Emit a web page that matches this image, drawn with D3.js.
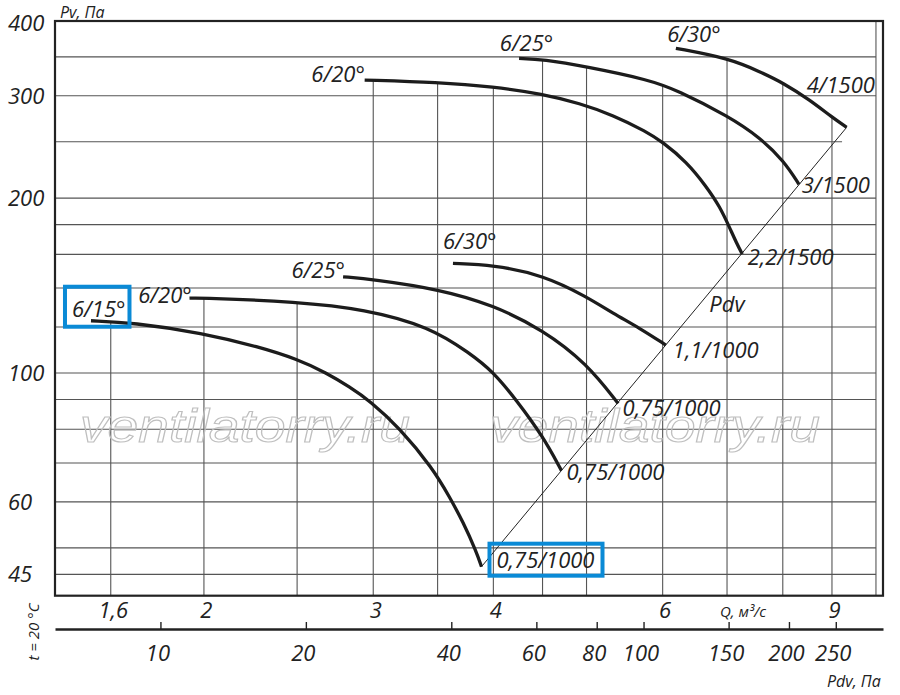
<!DOCTYPE html>
<html><head><meta charset="utf-8">
<script src="https://cdn.jsdelivr.net/npm/d3@7"></script>
<style>
body{margin:0;background:#fff}
svg{display:block}
text{font-family:"Open Sans","Noto Sans",sans-serif;font-style:italic;fill:#222}
</style>
</head><body>
<svg id="c" width="900" height="695"></svg>
<script>
// ---------- data ----------
const qDomain = [1.4, 10.17];          // Q, m3/s (log)
const pDomain = [41.36, 403.5];        // Pv, Pa (log)
const pdvDomain = [6.05, 313.1];       // Pdv, Pa (log)
const qTicks = [1.6, 2, 3, 4, 6, 9];
const qTickLabels = ["1,6", "2", "3", "4", "6", "9"];
const qGrid = [1.6, 2, 2.5, 3, 3.5, 4, 4.5, 5, 6, 7, 8, 9, 10];
const pTicks = [45, 60, 100, 200, 300, 400];
const pGrid = [45, 50, 60, 70, 80, 90, 100, 120, 140, 160, 180, 200, 250, 300, 350];
const pGridEndQ = {250: 9.22};
const pdvTicks = [10, 20, 40, 60, 80, 100, 150, 200, 250];

// fan curves [Q, Pv]
const c15_1000 = [[1.526,123.0],[1.685,122.1],[1.993,117.2],[2.285,110.8],[2.497,105.7],[2.684,100.0],[2.835,94.6],[2.975,89.6],[3.196,80.4],[3.458,68.6],[3.603,61.1],[3.720,55.4],[3.841,49.2],[3.888,46.4]];
const c20_1000 = [[1.932,134.5],[1.994,134.7],[2.499,132.6],[2.939,128.8],[3.434,120.1],[3.781,108.1],[3.998,100.5],[4.227,89.8],[4.506,77.7],[4.709,67.9]];
const c25_1000 = [[2.791,146.4],[2.999,144.9],[3.517,139.3],[3.998,130.9],[4.506,118.6],[5.001,103.9],[5.393,88.6]];
const c30_1000 = [[3.631,154.4],[3.998,153.4],[4.506,147.4],[5.001,135.3],[5.329,126.6],[5.681,119.4],[6.045,111.7]];
const c20_1500 = [[2.939,319.3],[3.503,316.4],[3.998,311.0],[4.506,302.1],[4.920,291.1],[5.329,277.9],[5.773,260.2],[5.993,250.0],[6.354,231.0],[6.665,209.2],[6.881,193.2],[7.036,178.6],[7.162,167.2],[7.260,160.2]];
const c25_1500 = [[4.254,347.9],[4.506,346.6],[5.001,336.6],[5.819,319.3],[6.203,306.9],[7.036,276.3],[7.574,254.2],[8.023,231.6],[8.316,211.2]];
const c30_1500 = [[6.193,362.1],[7.036,347.9],[7.574,330.0],[8.023,315.1],[8.537,295.0],[9.006,275.4],[9.322,264.7]];
const curveSeries = [c15_1000, c20_1000, c25_1000, c30_1000, c20_1500, c25_1500, c30_1500];
const angleLabels = ["6/15°", "6/20°", "6/25°", "6/30°", "6/20°", "6/25°", "6/30°"];
const motorLabels = ["0,75/1000", "0,75/1000", "0,75/1000", "1,1/1000", "2,2/1500", "3/1500", "4/1500"];
// Pdv line endpoints [Q, Pv]
const pdvLine = [[3.888,46.4],[9.322,264.7]];
const pdvLabelPos = [6.71, 127.5];

// ---------- layout ----------
const L = 55, R = 883, T = 21, B = 595.7, PDV_Y = 629;
const angleOff = [[-19,-4],[-51.3,5.3],[-51.6,1.6],[-10,-14],[-53.3,1.7],[-19.3,-7.3],[-8.7,-6.6]];
const motorOff = [[15,1],[5,9.3],[4.4,12.4],[7,13],[5.4,11],[2.7,9],[-40,-34.6]];
const FS = 22;
const BLUE = "#0a8ad6";

const svg = d3.select("#c");
const x = d3.scaleLog().domain(qDomain).range([L, R]);
const y = d3.scaleLog().domain(pDomain).range([B, T]);
const xp = d3.scaleLog().domain(pdvDomain).range([L, R]);

const gGrid = svg.append("g");
const gWm = svg.append("g");
const gCurves = svg.append("g");

// watermark
["ventilatorry.ru","ventilatorry.ru"].forEach((t,i)=>{
  gWm.append("text").text(t)
    .attr("x", i===0 ? 80 : 490).attr("y", 442)
    .attr("textLength", 330).attr("lengthAdjust","spacingAndGlyphs")
    .style("font-family","'Liberation Sans',Arial,sans-serif")
    .style("font-size","46px").style("fill","none")
    .style("stroke","#bfbfbf").style("stroke-width",1.1);
});

// curves
const line = d3.line().x(d=>x(d[0])).y(d=>y(d[1])).curve(d3.curveBasis);
const paths = curveSeries.map(s => gCurves.append("path").attr("d", line(s))
  .attr("fill","none").attr("stroke","#1c1c1c").attr("stroke-width",3.3));

// sample paths for grid tops
const samples = paths.map(p => {
  const n = p.node(), len = n.getTotalLength(), pts = [];
  for (let s = 0; s <= len; s += 0.5) { const q = n.getPointAtLength(s); pts.push([q.x, q.y]); }
  return pts;
});
function topAt(px) {
  let best = null;
  samples.forEach(pts => {
    if (px < pts[0][0] || px > pts[pts.length-1][0]) return;
    let m = pts[0];
    pts.forEach(p => { if (Math.abs(p[0]-px) < Math.abs(m[0]-px)) m = p; });
    if (best === null || m[1] < best) best = m[1];
  });
  return best === null ? T : best;
}

// grid lines
const GRID = "#555";
pGrid.forEach(v => {
  gGrid.append("line").attr("x1", L).attr("x2", x(pGridEndQ[v] || 10))
    .attr("y1", y(v)).attr("y2", y(v)).attr("stroke", GRID).attr("stroke-width", 1.1);
});
qGrid.forEach(v => {
  gGrid.append("line").attr("x1", x(v)).attr("x2", x(v))
    .attr("y1", B).attr("y2", topAt(x(v))).attr("stroke", GRID).attr("stroke-width", 1.1);
});

// Pdv diagonal
svg.append("line")
  .attr("x1", x(pdvLine[0][0])).attr("y1", y(pdvLine[0][1]))
  .attr("x2", x(pdvLine[1][0])).attr("y2", y(pdvLine[1][1]))
  .attr("stroke", "#222").attr("stroke-width", 1);
svg.append("text").text("Pdv").attr("x", x(pdvLabelPos[0])).attr("y", y(pdvLabelPos[1]))
  .style("font-size", FS + "px");

// curve labels
const angleTexts = [], motorTexts = [];
curveSeries.forEach((s, i) => {
  const a = s[0], b = s[s.length-1];
  angleTexts.push(svg.append("text").text(angleLabels[i])
    .attr("x", x(a[0]) + angleOff[i][0]).attr("y", y(a[1]) + angleOff[i][1])
    .style("font-size", FS + "px"));
  motorTexts.push(svg.append("text").text(motorLabels[i])
    .attr("x", x(b[0]) + motorOff[i][0]).attr("y", y(b[1]) + motorOff[i][1])
    .style("font-size", FS + "px"));
});

// highlight boxes
function box(t, pl, pr, pt, pb) {
  const bb = t.node().getBBox();
  svg.append("rect").attr("x", bb.x - pl).attr("y", bb.y - pt)
    .attr("width", bb.width + pl + pr).attr("height", bb.height + pt + pb)
    .attr("fill", "none").attr("stroke", BLUE).attr("stroke-width", 4);
}
box(angleTexts[0], 7, 4, 6, 4);
box(motorTexts[0], 7, 8, 0, 2);

// frame
svg.append("rect").attr("x", L).attr("y", T).attr("width", R - L).attr("height", B - T)
  .attr("fill", "none").attr("stroke", "#222").attr("stroke-width", 2.2);

// axes
function styleAxis(g, size) {
  g.attr("font-family", null).attr("font-size", null);
  g.selectAll("text").style("font-size", size + "px").attr("fill", "#222");
}
const ay = svg.append("g").attr("transform", `translate(${L},0)`)
  .call(d3.axisLeft(y).tickValues(pTicks).tickFormat(d3.format("d")).tickSize(0).tickPadding(0));
ay.select(".domain").remove();
styleAxis(ay, FS);
ay.selectAll("text").attr("text-anchor", "start").attr("x", 8 - L).attr("dy", "0.33em");

const ax = svg.append("g").attr("transform", `translate(0,${B})`)
  .call(d3.axisBottom(x).tickValues(qTicks).tickFormat((d, i) => qTickLabels[i]).tickSize(0).tickPadding(6.5));
ax.select(".domain").remove();
styleAxis(ax, FS);
ax.selectAll("text").attr("x", 2);

const axp = svg.append("g").attr("transform", `translate(0,${PDV_Y})`)
  .call(d3.axisBottom(xp).tickValues(pdvTicks).tickFormat(d3.format("d")).tickSizeInner(-7).tickSizeOuter(0).tickPadding(16.5));
axp.select(".domain").attr("stroke", "#222").attr("stroke-width", 2.6);
axp.selectAll(".tick line").attr("stroke", "#222").attr("stroke-width", 1.4);
styleAxis(axp, FS);
axp.selectAll("text").attr("x", -3);

// axis titles
svg.append("text").text("Pv, Па").attr("x", 60).attr("y", 17.5).style("font-size", "16px");
svg.append("text").text("Q, м³/с").attr("x", 720).attr("y", 616.5).style("font-size", "15px");
svg.append("text").text("Pdv, Па").attr("x", 827).attr("y", 686.5).style("font-size", "16px");
svg.append("text").text("t = 20 °C").attr("transform", "translate(39,632) rotate(-90)")
  .attr("text-anchor", "middle").style("font-size", "15px");
</script>
</body></html>
